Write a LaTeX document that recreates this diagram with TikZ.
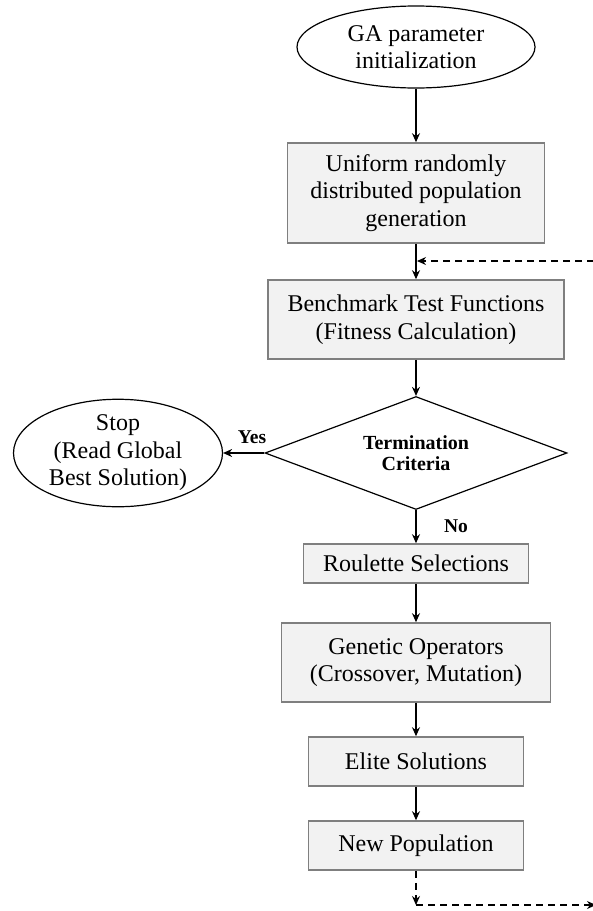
\documentclass[tikz,border=0pt]{standalone}
\usepackage{fontspec}
\setmainfont{Liberation Serif}
\usetikzlibrary{shapes.geometric,arrows.meta}
\definecolor{boxfill}{HTML}{F2F2F2}
\definecolor{boxline}{HTML}{7F7F7F}
\newcommand{\mainfs}{\fontsize{24}{27.5}\selectfont}
\newcommand{\lblfs}{\fontsize{19.5}{22}\selectfont\bfseries}
\begin{document}
\begin{tikzpicture}[x=1pt,y=-1pt,
  procbox/.style={rectangle, draw=boxline, fill=boxfill, line width=1.6pt, inner sep=0pt, align=center, font=\mainfs},
  termnode/.style={ellipse, draw=black, line width=1.2pt, inner sep=0pt, align=center, font=\mainfs},
  decnode/.style={diamond, draw=black, line width=1.2pt, inner sep=0pt, aspect=2.67, align=center, font=\fontsize{20}{21.5}\selectfont\bfseries},
  flow/.style={draw=black, line width=1.3pt, -{Stealth[length=9pt,width=8pt]}},
  loopline/.style={draw=black, line width=1.3pt, dash pattern=on 7pt off 5pt},
  lbl/.style={font=\lblfs, inner sep=0pt}
]
\useasboundingbox (0,0) rectangle (593,911);
\node[termnode, minimum width=238pt, minimum height=82pt] (start) at (416,47) {GA parameter\\initialization};
\node[procbox, minimum width=257pt, minimum height=100pt] (gen) at (416,193) {Uniform randomly\\distributed population\\generation};
\node[procbox, minimum width=296pt, minimum height=79pt] (fit) at (416,319.5) {Benchmark Test Functions\\(Fitness Calculation)};
\node[decnode, minimum width=302pt, minimum height=113pt] (dec) at (416,453) {Termination\\Criteria};
\node[termnode, minimum width=209pt, minimum height=90pt] (stop) at (118,453) {Stop\\(Read Global\\Best Solution)};
\node[procbox, minimum width=225pt, minimum height=39pt] (sel) at (416,563.5) {Roulette Selections};
\node[procbox, minimum width=269pt, minimum height=79pt] (gop) at (416,662.5) {Genetic Operators\\(Crossover, Mutation)};
\node[procbox, minimum width=215pt, minimum height=49pt] (elite) at (416,761.5) {Elite Solutions};
\node[procbox, minimum width=215pt, minimum height=49pt] (newp) at (416,845.5) {New Population};
\node[lbl] (yes) at (252,437) {Yes};
\node[lbl] (no) at (456,526) {No};
\coordinate (topin) at (594,261);
\coordinate (toptip) at (417,261);
\coordinate (botcorner) at (416,905);
\coordinate (botout) at (596,905);

\draw[flow] (start.south) -- (gen.north);
\draw[flow] (gen.south) -- (fit.north);
\draw[flow] (fit.south) -- (dec.north);
\draw[flow] (dec.west) -- (stop.east);
\draw[flow] (dec.south) -- (sel.north);
\draw[flow] (sel.south) -- (gop.north);
\draw[flow] (gop.south) -- (elite.north);
\draw[flow] (elite.south) -- (newp.north);
\draw[loopline, -{Stealth[length=9pt,width=8pt]}] (topin) -- (toptip);
\draw[loopline, -{Stealth[length=9pt,width=8pt]}] (newp.south) -- (botcorner);
\draw[loopline, -{Stealth[length=9pt,width=8pt]}] (botcorner) -- (botout);
\end{tikzpicture}
\end{document}
